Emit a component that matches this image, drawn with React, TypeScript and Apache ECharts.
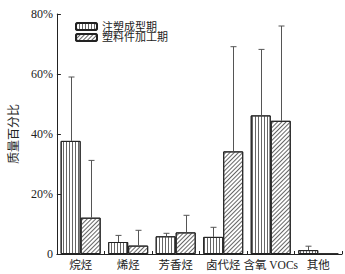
import React, { useEffect, useRef } from "react";
import * as echarts from "echarts";

const categories = ["烷烃", "烯烃", "芳香烃", "卤代烃", "含氧 VOCs", "其他"];
const seriesNames = ["注塑成型期", "塑料件加工期"];
const injectionValues = [37.7, 4.0, 5.9, 5.7, 46.2, 1.3];
const injectionSd = [21.3, 2.2, 1.0, 3.2, 22.0, 1.3];
const processingValues = [12.1, 2.8, 7.2, 34.2, 44.4, 0];
const processingSd = [19.1, 5.1, 5.7, 34.9, 31.6, 0];
const yTicks = [0, 20, 40, 60, 80];

const FONT = "Liberation Serif, Noto Sans CJK SC, serif";
const BAR_W = 20;

function errorSeries(values: number[], sds: number[], offset: number) {
  return {
    type: "custom",
    silent: true,
    z: 5,
    data: values.map((v, i) => [i, v, sds[i]]),
    encode: { x: 0, y: 1 },
    renderItem: (params: any, api: any) => {
      const idx = api.value(0);
      const v = api.value(1);
      const sd = api.value(2);
      if (!(sd > 0)) return null;
      const p1 = api.coord([idx, v]);
      const p2 = api.coord([idx, v + sd]);
      const x = Math.round(p1[0] + offset) + 0.5;
      const style = { stroke: "#555", lineWidth: 1 };
      return {
        type: "group",
        children: [
          { type: "line", shape: { x1: x, y1: p1[1], x2: x, y2: p2[1] }, style },
          { type: "line", shape: { x1: x - 3, y1: p2[1], x2: x + 3, y2: p2[1] }, style },
        ],
      };
    },
  };
}

export default function App() {
  const ref = useRef<HTMLDivElement>(null);
  useEffect(() => {
    if (!ref.current) return;
    const chart = echarts.init(ref.current, null, { renderer: "svg" });
    chart.setOption({
      animation: false,
      backgroundColor: "#fff",
      grid: { left: 45, right: 3, top: 14, bottom: 20, containLabel: false },
      legend: {
        data: seriesNames,
        orient: "vertical",
        left: 75,
        top: 21,
        padding: 0,
        itemWidth: 21,
        itemHeight: 7,
        itemGap: 0,
        textStyle: { fontFamily: FONT, fontSize: 11, color: "#222", lineHeight: 10 },
      },
      xAxis: {
        type: "category",
        data: categories,
        axisLine: { lineStyle: { color: "#222", width: 1 } },
        axisTick: { show: true, inside: true, length: 3, lineStyle: { color: "#222" } },
        axisLabel: { fontFamily: FONT, fontSize: 11.5, color: "#222", margin: 5, interval: 0 },
      },
      yAxis: {
        type: "value",
        min: 0,
        max: 80,
        interval: 20,
        name: "质量百分比",
        nameLocation: "middle",
        nameGap: 30,
        nameTextStyle: { fontFamily: FONT, fontSize: 12, color: "#222" },
        axisLine: { show: true, lineStyle: { color: "#222", width: 1 } },
        axisTick: { show: true, inside: true, length: 4, lineStyle: { color: "#222" } },
        splitLine: { show: false },
        axisLabel: {
          fontFamily: FONT,
          fontSize: 12,
          color: "#222",
          margin: 4,
          formatter: (v: number) => (yTicks.includes(v) ? (v === 0 ? "0" : v + "%") : ""),
        },
      },
      series: [
        {
          name: seriesNames[0],
          type: "bar",
          data: injectionValues,
          barWidth: BAR_W,
          barGap: "0%",
          itemStyle: {
            color: "#fff",
            borderColor: "#222",
            borderWidth: 1,
            decal: {
              symbol: "rect",
              symbolSize: 1,
              color: "#666",
              backgroundColor: "#fff",
              dashArrayX: [1, 2],
              dashArrayY: [1, 0],
              rotation: 0,
            },
          },
        },
        {
          name: seriesNames[1],
          type: "bar",
          data: processingValues,
          barWidth: BAR_W,
          barGap: "0%",
          itemStyle: {
            color: "#fff",
            borderColor: "#222",
            borderWidth: 1,
            decal: {
              symbol: "rect",
              symbolSize: 1,
              color: "#666",
              backgroundColor: "#fff",
              dashArrayX: [1, 2],
              dashArrayY: [1, 0],
              rotation: Math.PI / 4,
            },
          },
        },
        errorSeries(injectionValues, injectionSd, -BAR_W / 2),
        errorSeries(processingValues, processingSd, BAR_W / 2),
      ],
    });
    return () => chart.dispose();
  }, []);
  return <div ref={ref} style={{ width: 345, height: 274, position: "absolute", left: 0, top: 0 }} />;
}
